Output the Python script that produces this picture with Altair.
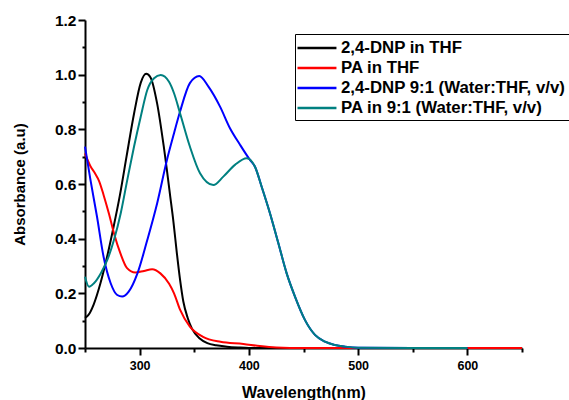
import altair as alt
import pandas as pd

FONT = "Liberation Sans"

series_names = [
    "2,4-DNP in THF",
    "PA in THF",
    "2,4-DNP 9:1 (Water:THF, v/v)",
    "PA in 9:1 (Water:THF, v/v)",
]
series_colors = ["#000000", "#FF0000", "#0000FF", "#008080"]

dnp_thf_wl = [250, 253, 258, 264, 270, 276, 282, 288, 295, 301, 306, 310, 316, 322, 328, 331, 334, 337,
              340, 344, 348, 355, 362, 370, 380, 390, 400, 450, 500, 550, 600]
dnp_thf_abs = [0.11, 0.12, 0.16, 0.235, 0.33, 0.44, 0.56, 0.70, 0.86, 0.97, 1.003, 0.99, 0.895, 0.74, 0.555,
               0.46, 0.35, 0.25, 0.17, 0.11, 0.07, 0.035, 0.018, 0.01, 0.005, 0.002, 0.0, 0.0, 0.0, 0.0, 0.0]

pa_thf_wl = [250, 255, 259, 263, 267, 272, 276.5, 282.5, 288.5, 296, 304, 311.5, 319, 327, 331.5, 337, 346,
             358, 374, 395, 410, 425, 450, 500, 550, 600, 650]
pa_thf_abs = [0.712, 0.665, 0.64, 0.61, 0.56, 0.49, 0.42, 0.345, 0.292, 0.276, 0.282, 0.288, 0.273, 0.235,
              0.2, 0.14, 0.078, 0.041, 0.023, 0.015, 0.007, 0.002, 0.0, 0.0, 0.0, 0.0, 0.0]

dnp_mix_wl = [250, 255, 261, 267, 273.5, 279.5, 284, 290, 298, 307, 316, 325, 331.5, 337, 346, 354.6, 363,
              373.6, 382.7, 392, 401, 405.6, 411.7, 419.3, 427, 434.6, 442.2, 451.4, 460.5, 469.7, 478.8,
              488, 500, 550, 600]
dnp_mix_abs = [0.737, 0.615, 0.48, 0.334, 0.237, 0.194, 0.188, 0.206, 0.273, 0.395, 0.529, 0.688, 0.786,
               0.865, 0.969, 0.995, 0.956, 0.883, 0.804, 0.743, 0.688, 0.663, 0.59, 0.493, 0.383, 0.273,
               0.188, 0.102, 0.048, 0.023, 0.011, 0.005, 0.001, 0.0, 0.0]

pa_mix_wl = [250, 253.7, 258.2, 264.4, 270.4, 276.5, 282.7, 288.7, 294.9, 301, 307, 313.2, 319.3, 326.9,
             331.5, 337, 346, 355.3, 367.5, 376.6, 387.3, 398, 405.6, 411.7, 419.3, 427, 434.6, 442.2,
             451.4, 460.5, 469.7, 478.8, 488, 500, 550, 600]
pa_mix_abs = [0.261, 0.224, 0.237, 0.273, 0.322, 0.395, 0.493, 0.615, 0.737, 0.846, 0.944, 0.987, 0.999,
              0.974, 0.932, 0.859, 0.737, 0.639, 0.596, 0.627, 0.67, 0.694, 0.663, 0.59, 0.493, 0.383,
              0.273, 0.188, 0.102, 0.048, 0.023, 0.011, 0.005, 0.001, 0.0, 0.0]

x_tick_values = [250, 300, 350, 400, 450, 500, 550, 600, 650]
y_tick_values = [0.0, 0.1, 0.2, 0.3, 0.4, 0.5, 0.6, 0.7, 0.8, 0.9, 1.0, 1.1, 1.2]

rows = []
for name, wls, vals in zip(series_names,
                           [dnp_thf_wl, pa_thf_wl, dnp_mix_wl, pa_mix_wl],
                           [dnp_thf_abs, pa_thf_abs, dnp_mix_abs, pa_mix_abs]):
    for w, a in zip(wls, vals):
        rows.append({"series": name, "wl": w, "abs": a})
df = pd.DataFrame(rows)

x_axis = alt.Axis(
    values=x_tick_values,
    title="Wavelength(nm)",
    labelExpr="datum.value % 100 == 0 ? datum.value : ''",
    tickSize={"condition": {"test": "datum.value % 100 == 0", "value": 7}, "value": 4},
    tickWidth=2, tickColor="black",
    domainWidth=2, domainColor="black",
    labelFont=FONT, labelFontSize=12.5, labelFontWeight="bold", labelColor="black",
    labelPadding=4,
    titleFont=FONT, titleFontSize=16, titleFontWeight="bold", titleColor="black",
    titlePadding=13,
    grid=False,
)

y_axis = alt.Axis(
    values=y_tick_values,
    title="Absorbance (a.u)",
    labelExpr="round(datum.value * 10) % 2 == 0 ? format(datum.value, '.1f') : ''",
    tickSize={"condition": {"test": "round(datum.value * 10) % 2 == 0", "value": 7}, "value": 3},
    tickWidth=2, tickColor="black",
    domainWidth=2, domainColor="black",
    labelFont=FONT, labelFontSize=15.5, labelFontWeight="bold", labelColor="black",
    labelPadding=2,
    titleFont=FONT, titleFontSize=15, titleFontWeight="bold", titleColor="black",
    titlePadding=27,
    grid=False,
)

legend = alt.Legend(
    title=None, orient="none", legendX=210, legendY=14,
    strokeColor="black", fillColor="white", padding=3,
    symbolType="M-1.21,0H2.89", symbolSize=361, symbolStrokeWidth=2.5,
    labelFont=FONT, labelFontSize=16.8, labelFontWeight="bold", labelColor="black",
    labelOffset=21, labelLimit=0, rowPadding=-1.5,
)

chart = alt.Chart(df).mark_line(interpolate="monotone", strokeWidth=2).encode(
    x=alt.X("wl:Q", scale=alt.Scale(domain=[250, 650], nice=False, zero=False), axis=x_axis),
    y=alt.Y("abs:Q", scale=alt.Scale(domain=[0, 1.2], nice=False), axis=y_axis),
    color=alt.Color("series:N", scale=alt.Scale(domain=series_names, range=series_colors), legend=legend),
).properties(
    width=437, height=328,
    padding={"left": 85, "top": 20, "right": 47, "bottom": 52},
    autosize=alt.AutoSizeParams(type="none"),
    background="white",
).configure_view(stroke=None)

chart.save("out.html", embed_options={"renderer": "svg", "actions": False})
